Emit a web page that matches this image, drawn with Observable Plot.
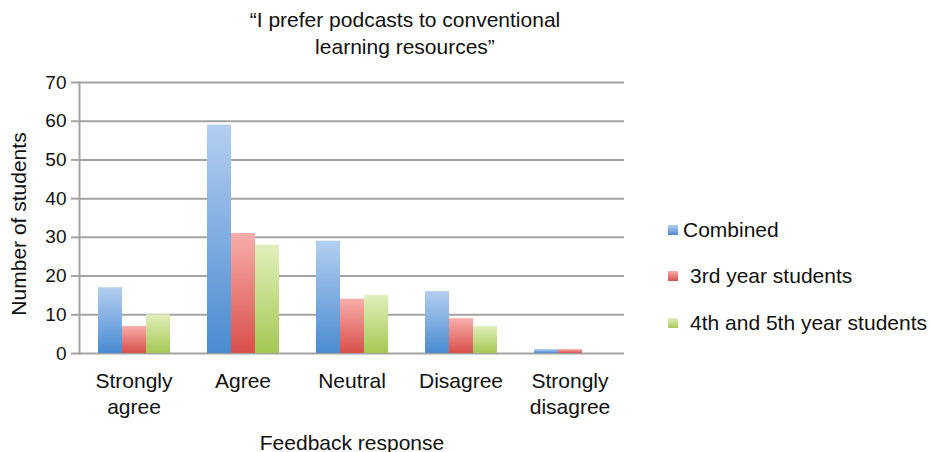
<!DOCTYPE html>
<html>
<head>
<meta charset="utf-8">
<script src="https://cdn.jsdelivr.net/npm/d3@7"></script>
<script src="https://cdn.jsdelivr.net/npm/@observablehq/plot@0.6"></script>
<style>
  html, body { margin: 0; padding: 0; background: #fff; }
  #wrap { position: relative; width: 933px; height: 452px; font-family: "Liberation Sans", Arial, sans-serif; color: #111; }
  #title { position: absolute; left: 155px; width: 500px; top: 6px; text-align: center; font-size: 21px; line-height: 27px; }
  #legend { position: absolute; left: 668px; top: 0; font-size: 21px; }
  .item { position: absolute; left: 0; white-space: nowrap; display: flex; align-items: center; height: 24px; }
  .sw { width: 10px; height: 10px; display: inline-block; }
  #chart { position: absolute; left: 0; top: 0; }
</style>
</head>
<body>
<div id="wrap">
  <div id="chart"></div>
  <div id="title"></div>
  <div id="legend"></div>
</div>
<script>
const categories = ["Strongly agree", "Agree", "Neutral", "Disagree", "Strongly disagree"];
const tickLabels = ["Strongly\nagree", "Agree", "Neutral", "Disagree", "Strongly\ndisagree"];
const series = ["Combined", "3rd year students", "4th and 5th year students"];
const combined = [17, 59, 29, 16, 1];
const thirdYear = [7, 31, 14, 9, 1];
const fourthFifth = [10, 28, 15, 7, 0];
const yTicks = [0, 10, 20, 30, 40, 50, 60, 70];
const titleLines = ["\u201CI prefer podcasts to conventional", "learning resources\u201D"];
const xTitle = "Feedback response";
const yTitle = "Number of students";

const gradients = [
  {id: "g0", top: "#b3cff0", bottom: "#4a8bd1"},
  {id: "g1", top: "#f8aeab", bottom: "#d84f4a"},
  {id: "g2", top: "#e1efbb", bottom: "#a4c954"}
];

const seriesValues = [combined, thirdYear, fourthFifth];
const data = series.flatMap((s, si) => categories.map((c, ci) => ({category: c, series: s, value: seriesValues[si][ci]})));

const grid = "#a3a3a3";
const chart = Plot.plot({
  width: 933,
  height: 452,
  marginTop: 82,
  marginBottom: 99,
  marginLeft: 78,
  marginRight: 308,
  style: {fontFamily: "'Liberation Sans', Arial, sans-serif", fontSize: "19px", color: "#111", background: "transparent", overflow: "visible"},
  fx: {domain: categories, padding: 0},
  x: {domain: series, paddingInner: 0, paddingOuter: 0.73, axis: null},
  y: {domain: [0, 70]},
  marks: [
    Plot.gridY(yTicks, {stroke: grid, strokeOpacity: 1, strokeWidth: 2}),
    ...series.map((s, i) => Plot.barY(data.filter(d => d.series === s), {fx: "category", x: "series", y: "value", fill: `url(#${gradients[i].id})`})),
    Plot.frame({anchor: "left", facetAnchor: "left", stroke: grid, strokeWidth: 2}),
    Plot.axisY(yTicks, {tickSize: 8, tickPadding: 5, stroke: grid, strokeWidth: 2, strokeOpacity: 1, fontSize: 19, label: null}),
    Plot.text([yTitle], {frameAnchor: "left", facetAnchor: "left", textAnchor: "middle", rotate: -90, dx: -60, dy: 6, fontSize: 21, fill: "#111"}),
    Plot.axisFx({anchor: "bottom", tickFormat: d => tickLabels[categories.indexOf(d)], tickSize: 0, tickPadding: 17, fontSize: 21, lineHeight: 1.2, label: xTitle, labelArrow: "none", labelAnchor: "center", labelOffset: 96})
  ]
});

const ns = "http://www.w3.org/2000/svg";
const defs = document.createElementNS(ns, "defs");
gradients.forEach(g => {
  const lg = document.createElementNS(ns, "linearGradient");
  lg.setAttribute("id", g.id);
  lg.setAttribute("x1", "0"); lg.setAttribute("y1", "0");
  lg.setAttribute("x2", "0"); lg.setAttribute("y2", "1");
  [[0, g.top], [1, g.bottom]].forEach(([o, c]) => {
    const st = document.createElementNS(ns, "stop");
    st.setAttribute("offset", o);
    st.setAttribute("stop-color", c);
    lg.appendChild(st);
  });
  defs.appendChild(lg);
});
chart.insertBefore(defs, chart.firstChild);
document.getElementById("chart").appendChild(chart);

const title = document.getElementById("title");
titleLines.forEach(t => { const d = document.createElement("div"); d.textContent = t; title.appendChild(d); });

const legend = document.getElementById("legend");
const legendY = [218, 264, 311];
const textGap = [5, 12, 12];
series.forEach((s, i) => {
  const it = document.createElement("div");
  it.className = "item";
  it.style.top = legendY[i] + "px";
  const sw = document.createElement("span");
  sw.className = "sw";
  sw.style.background = `linear-gradient(${gradients[i].top}, ${gradients[i].bottom})`;
  const tx = document.createElement("span");
  tx.style.marginLeft = textGap[i] + "px";
  tx.textContent = s;
  it.appendChild(sw); it.appendChild(tx);
  legend.appendChild(it);
});
</script>
</body>
</html>
